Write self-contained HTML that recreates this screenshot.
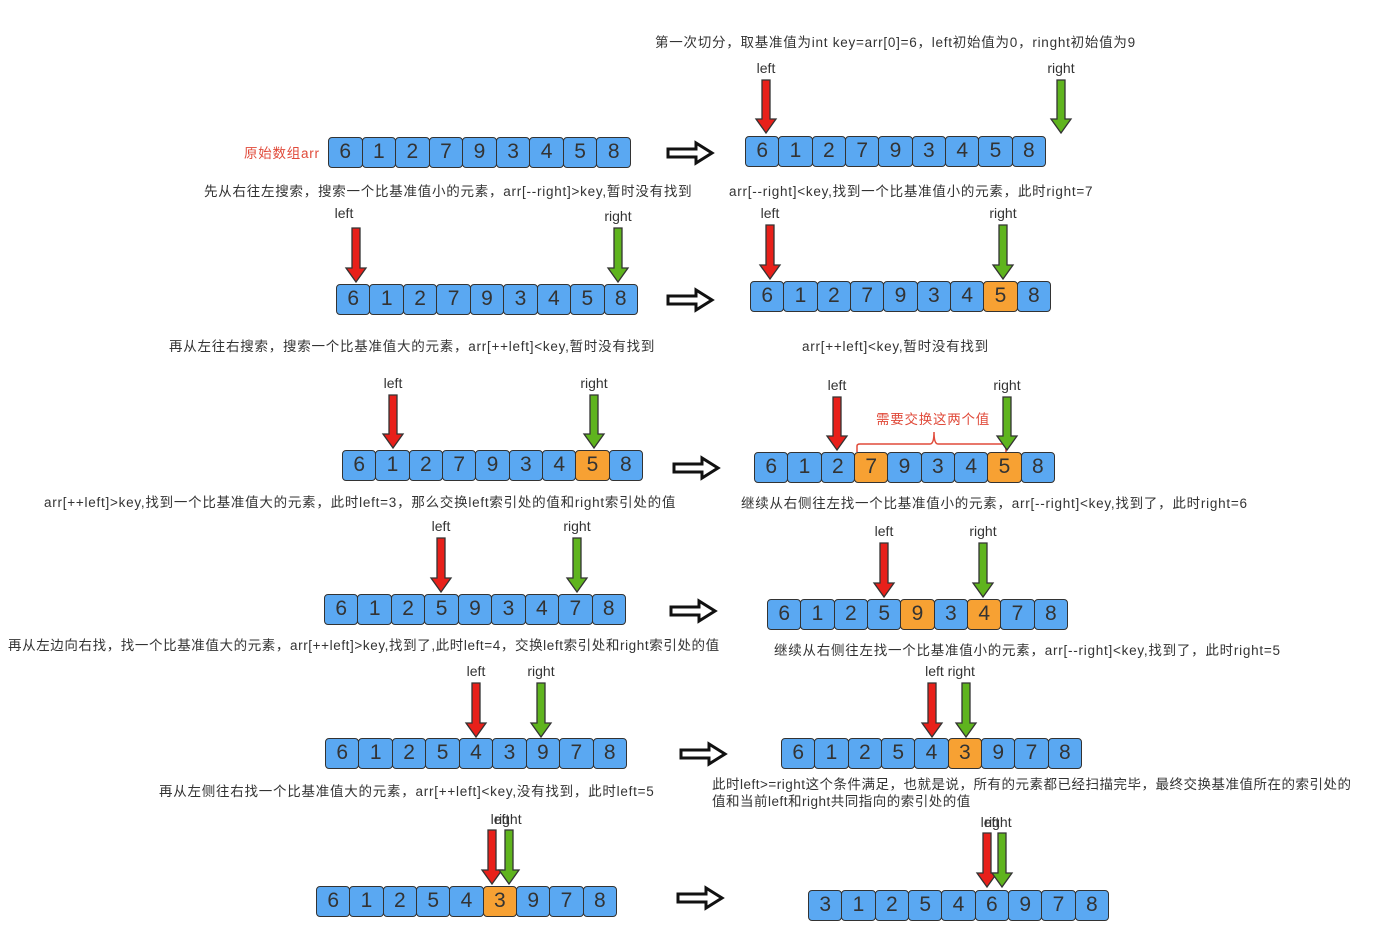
<!DOCTYPE html>
<html><head><meta charset="utf-8"><style>
body{margin:0;width:1386px;height:942px;background:#fff;position:relative;overflow:hidden;font-family:"Liberation Sans","Noto Sans CJK SC",sans-serif;}
.t{position:absolute;font-size:13.5px;color:#333;white-space:nowrap;line-height:16px;letter-spacing:0.75px}
.c{position:absolute;height:28px;border:1.5px solid #333;border-radius:4px;background:#5aa8f2;box-sizing:border-box;font-size:21px;color:#333;text-align:center;line-height:27px}
.o{background:#f7a133}
</style></head><body>
<div id="root"></div>
<div class="t" style="left:655px;top:35px">第一次切分，取基准值为int key=arr[0]=6，left初始值为0，ringht初始值为9</div>
<div class="t" style="left:244px;top:146px;color:#e04a3a">原始数组arr</div>
<div class="t" style="left:204px;top:184px">先从右往左搜索，搜索一个比基准值小的元素，arr[--right]&gt;key,暂时没有找到</div>
<div class="t" style="left:729px;top:184px">arr[--right]&lt;key,找到一个比基准值小的元素，此时right=7</div>
<div class="t" style="left:169px;top:339px">再从左往右搜索，搜索一个比基准值大的元素，arr[++left]&lt;key,暂时没有找到</div>
<div class="t" style="left:802px;top:339px">arr[++left]&lt;key,暂时没有找到</div>
<div class="t" style="left:44px;top:495px">arr[++left]&gt;key,找到一个比基准值大的元素，此时left=3，那么交换left索引处的值和right索引处的值</div>
<div class="t" style="left:741px;top:496px">继续从右侧往左找一个比基准值小的元素，arr[--right]&lt;key,找到了，此时right=6</div>
<div class="t" style="left:8px;top:638px;letter-spacing:0.6px">再从左边向右找，找一个比基准值大的元素，arr[++left]&gt;key,找到了,此时left=4，交换left索引处和right索引处的值</div>
<div class="t" style="left:774px;top:643px">继续从右侧往左找一个比基准值小的元素，arr[--right]&lt;key,找到了，此时right=5</div>
<div class="t" style="left:159px;top:784px">再从左侧往右找一个比基准值大的元素，arr[++left]&lt;key,没有找到，此时left=5</div>
<div class="t" style="left:712px;top:777px;letter-spacing:0.5px">此时left&gt;=right这个条件满足，也就是说，所有的元素都已经扫描完毕，最终交换基准值所在的索引处的</div>
<div class="t" style="left:712px;top:794px;letter-spacing:0.5px">值和当前left和right共同指向的索引处的值</div>
<div class="t" style="left:876px;top:412px;color:#e04a3a">需要交换这两个值</div>
<svg style="position:absolute;left:0;top:0" width="1386" height="942">
<path d="M857 452 V446 Q857 444 860 444 H930 Q934 444 934 432 Q934 444 938 444 H1003 Q1006 444 1006 452" fill="none" stroke="#e04a3a" stroke-width="1.5"/>
<g id="hol"></g><g id="arr"></g>
</svg>
<script>
var R=document.getElementById('root');
function A(x0,x1,y,v,o){var w=(x1-x0)/9;for(var i=0;i<9;i++){var d=document.createElement('div');d.className='c'+(o.indexOf(i)>=0?' o':'');d.style.left=(x0+i*w)+'px';d.style.top=y+'px';d.style.width=(w+1)+'px';d.style.height='31px';d.textContent=v[i];R.appendChild(d);}}
A(328,630,137,'612793458',[]);A(745,1045,136,'612793458',[]);
A(336,637,284,'612793458',[]);A(750,1050,281,'612793458',[7]);
A(342,642,450,'612793458',[7]);A(754,1054,452,'612793458',[3,7]);
A(324,625,594,'612593478',[]);A(767,1067,599,'612593478',[4,6]);
A(325,626,738,'612543978',[]);A(781,1081,738,'612543978',[5]);
A(316,616,886,'612543978',[5]);A(808,1108,890,'312546978',[]);
var s='';
function V(x,t,b,c,lab){s+='<path d="M'+(x-4)+' '+t+' H'+(x+4)+' V'+(b-14)+' H'+(x+10)+' L'+x+' '+b+' L'+(x-10)+' '+(b-14)+' H'+(x-4)+' Z" fill="'+c+'" stroke="#333" stroke-width="1.3"/>';
if(lab)s+='<text x="'+x+'" y="'+(t-7)+'" font-size="14" fill="#333" text-anchor="middle" font-family="Liberation Sans">'+lab+'</text>';}
var rd='#e8201a',gr='#5fb41e';
V(766,80,133,rd,'left');V(1061,80,133,gr,'right');
V(356,228,282,rd,'');V(618,228,282,gr,'right');
s+='<text x="344" y="218" font-size="14" fill="#333" text-anchor="middle">left</text>';
V(770,225,279,rd,'left');V(1003,225,279,gr,'right');
V(393,395,448,rd,'left');V(594,395,448,gr,'right');
V(837,397,450,rd,'left');V(1007,397,450,gr,'right');
V(441,538,592,rd,'left');V(577,538,592,gr,'right');
V(884,543,597,rd,'left');V(983,543,597,gr,'right');
V(476,683,737,rd,'left');V(541,683,737,gr,'right');
V(932,683,737,rd,'');V(966,683,737,gr,'');
s+='<text x="950" y="676" font-size="14" fill="#333" text-anchor="middle">left right</text>';
V(492,830,884,rd,'');V(509,830,884,gr,'');
s+='<text x="500" y="824" font-size="14" fill="#333" text-anchor="middle">left</text><text x="508" y="824" font-size="14" fill="#333" text-anchor="middle">right</text>';
V(987,833,887,rd,'');V(1002,833,887,gr,'');
s+='<text x="990" y="827" font-size="14" fill="#333" text-anchor="middle">left</text><text x="998" y="827" font-size="14" fill="#333" text-anchor="middle">right</text>';
document.getElementById('arr').innerHTML=s;
var h='';
function H(x,y){h+='<path d="M'+x+' '+(y-4)+' H'+(x+28)+' V'+(y-10)+' L'+(x+44)+' '+y+' L'+(x+28)+' '+(y+10)+' V'+(y+4)+' H'+x+' Z" fill="#fff" stroke="#111" stroke-width="3"/>';}
H(668,153);H(668,300);H(674,468);H(671,611);H(681,754);H(678,898);
document.getElementById('hol').innerHTML=h;
</script>
</body></html>
